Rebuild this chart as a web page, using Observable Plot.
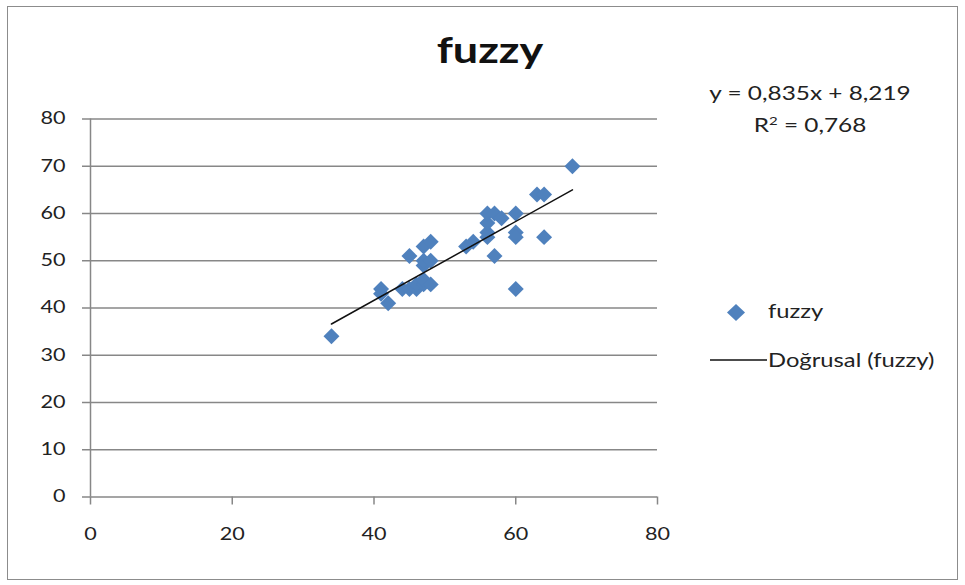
<!DOCTYPE html>
<html>
<head>
<meta charset="utf-8">
<script src="https://cdn.jsdelivr.net/npm/d3@7"></script>
<script src="https://cdn.jsdelivr.net/npm/@observablehq/plot@0.6"></script>
<style>
  body { margin: 0; background: #fff; font-family: Lato, "Open Sans", sans-serif; }
  #chart { position: relative; width: 965px; height: 585px; overflow: hidden; }
  #chart svg.plot { position: absolute; left: 0; top: 0; }
  .frame { position: absolute; left: 7px; top: 6px; width: 951px; height: 574px;
           border: 1.5px solid #8c8c8c; box-sizing: border-box; pointer-events: none; }
  .title { position: absolute; left: 390px; width: 200px; top: 31px; text-align: center;
           font-weight: 700; font-size: 36px; color: #111; line-height: 1;
           transform: scaleX(1.25); transform-origin: 100px 0; }
  .eq { position: absolute; left: 700px; width: 220px; text-align: center;
        font-size: 19.5px; color: #222; line-height: 1;
        transform: scaleX(1.25); transform-origin: 110px 0; }
  .legend-item { position: absolute; font-size: 19px; color: #222; line-height: 1; white-space: nowrap;
                 transform: scaleX(1.25); transform-origin: 0 0; }
  .legend-key { position: absolute; }
</style>
</head>
<body>
<div id="chart"></div>
<script>
// fuzzy series: x and y values of each observation
const fuzzyX = [34, 41, 41, 42, 44, 45, 45, 46, 46, 47, 47, 47, 47, 47, 48, 48, 48,
                53, 54, 56, 56, 56, 56, 57, 57, 58, 60, 60, 60, 60, 63, 64, 64, 68];
const fuzzyY = [34, 44, 43, 41, 44, 44, 51, 44, 45, 45, 46, 49, 50, 53, 54, 45, 50,
                53, 54, 55, 56, 58, 60, 60, 51, 59, 60, 56, 55, 44, 64, 64, 55, 70];

// linear trend line ("Doğrusal") coefficients as printed on the chart
const slope = 0.835;
const intercept = 8.219;
const rSquared = 0.768;

const xTicks = [0, 20, 40, 60, 80];
const yTicks = [0, 10, 20, 30, 40, 50, 60, 70, 80];

const seriesName = "fuzzy";
const trendName = "Doğrusal (fuzzy)";

const points = fuzzyX.map((x, i) => ({x, y: fuzzyY[i]}));
const [x0, x1] = d3.extent(fuzzyX);
const trend = [x0, x1].map(x => ({x, y: slope * x + intercept}));

const blue = "#4f81bd";
const grid = "#878787";

const fmt = v => v.toFixed(3).replace(".", ",");

const plot = Plot.plot({
  width: 965,
  height: 585,
  marginLeft: 90,
  marginRight: 308,
  marginTop: 118.5,
  marginBottom: 88.5,
  style: {fontFamily: "Lato, 'Open Sans', sans-serif", fontSize: "17px", color: "#222", background: "transparent"},
  x: {domain: [0, 80], ticks: xTicks},
  y: {domain: [0, 80], ticks: yTicks},
  marks: [
    Plot.ruleY(yTicks.filter(d => d > 0), {stroke: grid, strokeWidth: 1.5}),
    Plot.ruleY([0], {stroke: grid, strokeWidth: 1.5}),
    Plot.ruleX([0], {stroke: grid, strokeWidth: 1.5}),
    Plot.axisY({ticks: yTicks, tickSize: 8, tickPadding: 17, stroke: grid, strokeWidth: 1.5, label: null, fill: "#222"}),
    Plot.axisX({ticks: xTicks, tickSize: 8, tickPadding: 23, stroke: grid, strokeWidth: 1.5, label: null, fill: "#222"}),
    Plot.dot(points, {x: "x", y: "y", symbol: "diamond2", r: 7.2, fill: blue, stroke: "none"}),
    Plot.line(trend, {x: "x", y: "y", stroke: "#111", strokeWidth: 1.5})
  ]
});
plot.classList.add("plot");

// widen the tick labels about their anchor point
plot.querySelectorAll('g[aria-label$="tick label"] text').forEach(t => {
  const tr = t.getAttribute("transform");
  if (tr) {
    t.setAttribute("transform", tr + " scale(1.27,1)");
  } else {
    const x = +t.getAttribute("x") || 0, y = +t.getAttribute("y") || 0;
    t.setAttribute("x", 0);
    t.setAttribute("y", 0);
    t.setAttribute("transform", `translate(${x},${y}) scale(1.27,1)`);
  }
});

const chart = document.getElementById("chart");
chart.appendChild(plot);

const frame = document.createElement("div");
frame.className = "frame";
chart.appendChild(frame);

const title = document.createElement("div");
title.className = "title";
title.textContent = seriesName;
chart.appendChild(title);

const eq1 = document.createElement("div");
eq1.className = "eq";
eq1.style.top = "83px";
eq1.textContent = `y = ${fmt(slope)}x + ${fmt(intercept)}`;
chart.appendChild(eq1);

const eq2 = document.createElement("div");
eq2.className = "eq";
eq2.style.top = "115px";
eq2.innerHTML = `R<sup style="font-size:12px;vertical-align:7px;line-height:0">2</sup> = ${fmt(rSquared)}`;
chart.appendChild(eq2);

// legend: diamond marker and trend line sample
const ns = "http://www.w3.org/2000/svg";
const key1 = document.createElementNS(ns, "svg");
key1.setAttribute("class", "legend-key");
key1.setAttribute("width", 20); key1.setAttribute("height", 20);
key1.style.left = "726px"; key1.style.top = "302px";
key1.innerHTML = `<path d="M10,2L19,10.5L10,19L1,10.5Z" fill="${blue}"/>`;
chart.appendChild(key1);

const lab1 = document.createElement("div");
lab1.className = "legend-item";
lab1.style.left = "768px"; lab1.style.top = "301px";
lab1.textContent = seriesName;
chart.appendChild(lab1);

const key2 = document.createElementNS(ns, "svg");
key2.setAttribute("class", "legend-key");
key2.setAttribute("width", 60); key2.setAttribute("height", 10);
key2.style.left = "710px"; key2.style.top = "355px";
key2.innerHTML = `<line x1="0" x2="57" y1="5" y2="5" stroke="#111" stroke-width="1.5"/>`;
chart.appendChild(key2);

const lab2 = document.createElement("div");
lab2.className = "legend-item";
lab2.style.left = "768px"; lab2.style.top = "350px";
lab2.textContent = trendName;
chart.appendChild(lab2);
</script>
</body>
</html>
